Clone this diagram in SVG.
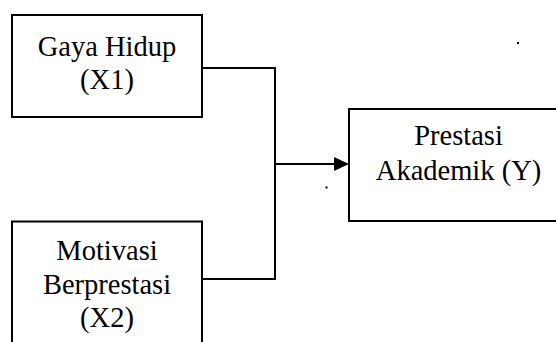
<svg xmlns="http://www.w3.org/2000/svg" width="556" height="342" viewBox="0 0 556 342">
<style>
.box{fill:#fff;stroke:#000;stroke-width:2}
.t{font-family:"Liberation Serif","Times New Roman",serif;font-size:28.5px;fill:#000;text-anchor:middle}
.c{fill:none;stroke:#000;stroke-width:2}
</style>
<defs>
<marker id="ah" markerWidth="8" markerHeight="8" refX="8" refY="4" orient="auto" markerUnits="userSpaceOnUse" viewBox="0 0 8 8">
<path d="M0,0 L8,4 L0,8 Z" fill="#000"/>
</marker>
</defs>
<rect width="556" height="342" fill="#fff"/>
<g id="connectors">
<path class="c" d="M202,68 H275 V279 H202"/>
<line x1="275" y1="164" x2="335" y2="164" class="c"/>
<path d="M334,157 L349,164 L334,171 Z" fill="#000"/>
</g>
<g id="x1">
<rect class="box" x="12" y="15" width="190" height="102"/>
<text class="t" x="107" y="56">Gaya Hidup</text>
<text class="t" x="107" y="89">(X1)</text>
</g>
<g id="x2">
<rect class="box" x="12" y="221.5" width="190" height="140"/>
<text class="t" x="107" y="260">Motivasi</text>
<text class="t" x="107" y="294">Berprestasi</text>
<text class="t" x="107" y="327">(X2)</text>
</g>
<g id="y">
<rect class="box" x="349" y="109" width="220" height="112"/>
<text class="t" x="458.5" y="145">Prestasi</text>
<text class="t" x="458.5" y="180">Akademik (Y)</text>
</g>
<rect x="517" y="42" width="2" height="2" fill="#000"/>
<rect x="325.5" y="186.5" width="2" height="2" fill="#000"/>
</svg>
